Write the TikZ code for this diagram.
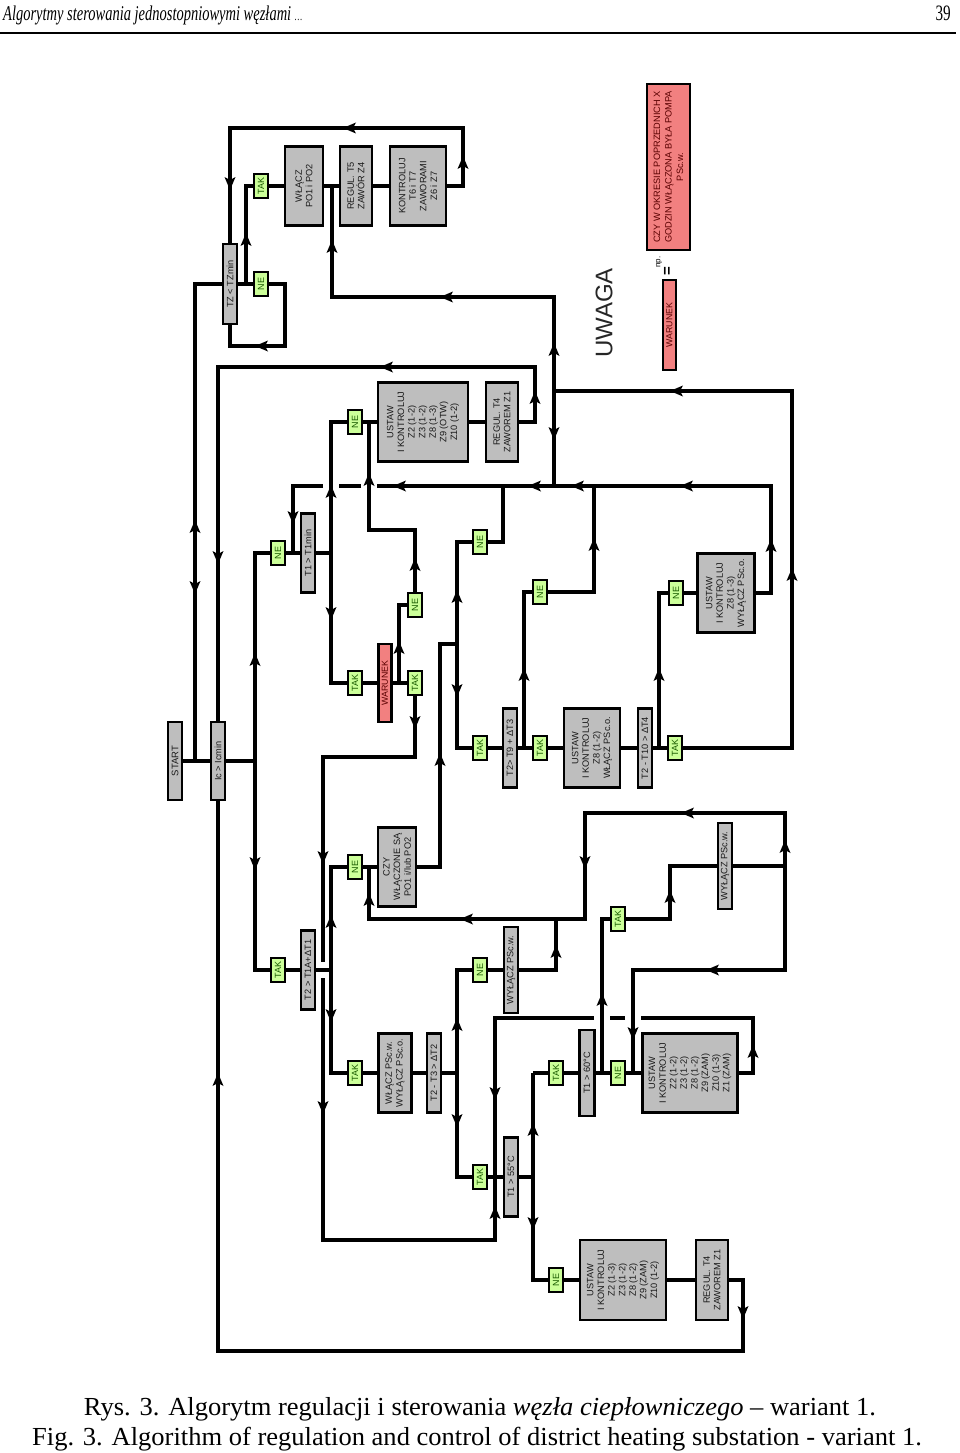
\documentclass[tikz,border=0pt]{standalone}
\usepackage{fontspec}
\setmainfont{Liberation Serif}
\newfontfamily\dsans{Liberation Sans}
\newfontfamily\hdrfont[FakeStretch=0.69]{Liberation Serif}
\newfontfamily\capfont[FakeStretch=1.02]{Liberation Serif}
\usetikzlibrary{backgrounds}
\definecolor{boxgray}{HTML}{BEBEBE}
\definecolor{lgreen}{HTML}{CCFF99}
\definecolor{dgreen}{HTML}{1A5C00}
\definecolor{lred}{HTML}{F28080}
\definecolor{dred}{HTML}{5A0000}
\newcommand\flowarrow[3]{\fill[shift={(#1,#2)},rotate=#3] (7,0) -- (-6,5.5) -- (-3,0) -- (-6,-5.5) -- cycle;}
\tikzset{
  gbox/.style 2 args={draw=black, line width=2.6pt, fill=boxgray, rotate=90, inner sep=0pt,
    minimum width=#2, minimum height=#1, align=center,
    font=\dsans\fontsize{9.2}{10.6}\selectfont, text=black!90},
  lbox/.style={draw=black, line width=2.4pt, fill=lgreen, rotate=90, inner sep=0pt,
    minimum width=24, minimum height=14, font=\dsans\fontsize{9}{9}\selectfont, text=dgreen},
  rbox/.style 2 args={draw=black, line width=2.6pt, fill=lred, rotate=90, inner sep=0pt,
    minimum width=#2, minimum height=#1, align=center,
    font=\dsans\fontsize{8.8}{11}\selectfont, text=dred},
  wire/.style={line width=3.3pt, line join=miter}
}
\begin{document}
\begin{tikzpicture}[x=1pt,y={(0pt,-1pt)}]
\useasboundingbox (0,0) rectangle (960,1453);
% header
\node[anchor=base west, inner sep=0pt, font=\hdrfont\itshape\fontsize{21}{21}\selectfont] (hdr) at (3,21) {Algorytmy sterowania jednostopniowymi węzłami {\fontsize{12}{12}\selectfont …}};
\node[anchor=base east, inner sep=0pt, font=\hdrfont\fontsize{22}{22}\selectfont] (pg) at (951,21) {39};
\draw[line width=1.8pt] (0,33) -- (956,33);
% caption
\node[anchor=base, inner sep=0pt, font=\capfont\fontsize{26}{26}\selectfont] (cap1) at (480,1415) {Rys. 3. Algorytm regulacji i sterowania \textit{węzła ciepłowniczego} – wariant 1.};
\node[anchor=base, inner sep=0pt, font=\capfont\fontsize{26}{26}\selectfont] (cap2) at (477,1445) {Fig. 3. Algorithm of regulation and control of district heating substation - variant 1.};

% gray boxes
\node[gbox={14}{80}] (tz) at (230,284) {TZ < TZmin};
\node[gbox={38}{79}] (wlacz) at (304,186) {WŁĄCZ\\PO1 i PO2};
\node[gbox={32}{79}] (regt5) at (356,186) {REGUL. T5\\ZAWÓR Z4};
\node[gbox={56}{79}] (kontr) at (418,186) {KONTROLUJ\\T6 i T7\\ZAWORAMI\\Z6 i Z7};
\node[gbox={90}{79}] (ustaw1) at (423,422) {USTAW\\I KONTROLUJ\\Z2 (1-2)\\Z3 (1-2)\\Z8 (1-3)\\Z9 (OTW)\\Z10 (1-2)};
\node[gbox={32}{79}] (regt4a) at (502,422) {REGUL. T4\\ZAWOREM Z1};
\node[gbox={14}{79}] (t1min) at (308,553) {T1 > T1min};
\node[gbox={14}{78}, font=\dsans\fontsize{9.5}{10}\selectfont] (start) at (175,761) {START};
\node[gbox={14}{78}] (ic) at (218,761) {Ic > Icmin};
\node[gbox={14}{79}] (t2t1a) at (308,970) {T2 > T1A+ΔT1};
\node[gbox={38}{79}] (czy) at (397,867) {CZY\\WŁĄCZONE SĄ\\PO1 i/lub PO2};
\node[gbox={33}{79}] (wlpsc) at (395,1073) {WŁĄCZ PSc.w.\\WYŁĄCZ PSc.o.};
\node[gbox={14}{79}] (t2t3) at (434,1073) {T2 - T3 > ΔT2};
\node[gbox={14}{79}] (t2t9) at (510,748) {T2> T9 + ΔT3};
\node[gbox={56}{79}] (ustaw2) at (592,748) {USTAW\\I KONTROLUJ\\Z8 (1-2)\\WŁĄCZ PSc.o.};
\node[gbox={14}{79}] (t2t10) at (645,748) {T2 - T10 > ΔT4};
\node[gbox={57}{79}] (ustaw5) at (726,593) {USTAW\\I KONTROLUJ\\Z8 (1-3)\\WYŁĄCZ PSc.o.};
\node[gbox={14}{86}] (wypscw1) at (511,970) {WYŁĄCZ PSc.w.};
\node[gbox={14}{86}] (wypscw2) at (725,866) {WYŁĄCZ PSc.w.};
\node[gbox={15}{86}] (t160) at (587,1073) {T1 > 60°C};
\node[gbox={95}{79}] (ustaw3) at (690,1073) {USTAW\\I KONTROLUJ\\Z2 (1-2)\\Z3 (1-2)\\Z8 (1-2)\\Z9 (ZAM)\\Z10 (1-3)\\Z1 (ZAM)};
\node[gbox={14}{79}] (t155) at (511,1177) {T1 > 55°C};
\node[gbox={86}{80}] (ustaw4) at (623,1280) {USTAW\\I KONTROLUJ\\Z2 (1-3)\\Z3 (1-2)\\Z8 (1-2)\\Z9 (ZAM)\\Z10 (1-2)};
\node[gbox={32}{80}] (regt4b) at (712,1280) {REGUL. T4\\ZAWOREM Z1};

% label boxes
\node[lbox] (tak_tz) at (261,186) {TAK};
\node[lbox] (ne_tz) at (261,284) {NE};
\node[lbox] (ne_u1) at (355,422) {NE};
\node[lbox] (ne_t1) at (278,553) {NE};
\node[lbox] (tak_war) at (355,683) {TAK};
\node[lbox] (tak_war2) at (415,683) {TAK};
\node[lbox] (ne_war) at (415,605) {NE};
\node[lbox] (ne_u5a) at (480,542) {NE};
\node[lbox] (ne_t9) at (540,592) {NE};
\node[lbox] (ne_u5) at (676,593) {NE};
\node[lbox] (tak_t9) at (480,748) {TAK};
\node[lbox] (tak_u2) at (540,748) {TAK};
\node[lbox] (tak_t10) at (675,748) {TAK};
\node[lbox] (tak_t2t1) at (278,970) {TAK};
\node[lbox] (ne_czy) at (355,867) {NE};
\node[lbox] (tak_wl) at (355,1073) {TAK};
\node[lbox] (ne_wy1) at (480,970) {NE};
\node[lbox] (tak_wy2) at (618,919) {TAK};
\node[lbox] (tak_55) at (480,1177) {TAK};
\node[lbox] (tak_60) at (556,1073) {TAK};
\node[lbox] (ne_60) at (618,1073) {NE};
\node[lbox] (ne_u4) at (556,1280) {NE};

% red boxes
\node[rbox={13}{78}] (war) at (385,683) {WARUNEK};
\node[rbox={13}{90}] (legwar) at (669.5,325) {WARUNEK};
\node[rbox={43}{166}, font=\dsans\fontsize{9.2}{11.5}\selectfont] (legbig) at (668.5,167) {CZY W OKRESIE POPRZEDNICH X\\GODZIN WŁĄCZONA BYŁA POMPA\\PSc.w.};
\node[rotate=90, inner sep=0pt, font=\dsans\fontsize{24}{24}\selectfont, text=black!85] (uwaga) at (604,313) {UWAGA};
\node[rotate=90, inner sep=0pt, font=\dsans\fontsize{8}{8}\selectfont] (np) at (659,262) {np.};
\node[rotate=90, inner sep=0pt, font=\dsans\bfseries\fontsize{15}{15}\selectfont] (eq) at (668,271) {=};

\begin{scope}[on background layer]
\draw[wire] (kontr.center) -- (463,186) -- (463,128) -- (230,128) -- (tz.center);
\draw[wire] (start.center) -- (ic.center);
\draw[wire] (195,761) -- (195,284) -- (tz.center);
\draw[wire] (tz.center) -- (ne_tz.center) -- (285,284) -- (285,346) -- (230,346) -- (tz.center);
\draw[wire] (246,284) |- (tak_tz.center) -- (wlacz.center) -- (regt5.center) -- (kontr.center);
\draw[wire] (332,186) -- (332,297) -- (554,297) -- (554,486);
\draw[wire] (tak_t10.center) -- (792,748) -- (792,391) -- (554,391);
\draw[wire] (ic.center) -- (218,367) -- (535,367) -- (535,422) -- (regt4a.center) -- (ustaw1.center) -- (ne_u1.center) -- (331,422) -- (331,683) -- (tak_war.center) -- (war.center) -- (tak_war2.center) -- (415,757) -- (323,757) -- (323,962);
\draw[wire] (323,978) -- (323,1240) -- (495,1240) -- (495,1177);
\draw[wire] (ustaw5.center) -- (771,593) -- (771,486) -- (377,486);
\draw[wire] (361,486) -- (339,486);
\draw[wire] (323,486) -- (293,486) -- (293,553);
\draw[wire] (ustaw5.center) -- (ne_u5.center) -- (659,593) -- (659,748);
\draw[wire] (594,486) -- (594,592) -- (ne_t9.center) -- (524,592) -- (524,748);
\draw[wire] (503,486) -- (503,542) -- (ne_u5a.center) -- (457,542) -- (457,748) -- (tak_t9.center) -- (t2t9.center) -- (tak_u2.center) -- (ustaw2.center) -- (t2t10.center) -- (tak_t10.center);
\draw[wire] (czy.center) -- (440,867) -- (440,644) -- (457,644);
\draw[wire] (ic.center) -- (255,761);
\draw[wire] (t1min.center) -- (ne_t1.center) -- (255,553) -- (255,970) -- (tak_t2t1.center) -- (t2t1a.center) -- (331,970);
\draw[wire] (t1min.center) -- (331,553);
\draw[wire] (399,683) -- (399,605) -- (ne_war.center) -- (415,530) -- (369,530) -- (369,422);
\draw[wire] (czy.center) -- (ne_czy.center) -- (331,867) -- (331,1073) -- (tak_wl.center) -- (wlpsc.center) -- (t2t3.center) -- (457,1073);
\draw[wire] (369,867) -- (369,919) -- (585,919) -- (585,813) -- (785,813) -- (785,970) -- (633,970) -- (633,1073);
\draw[wire] (wypscw2.center) -- (785,866);
\draw[wire] (wypscw2.center) -- (670,866) -- (670,919) -- (tak_wy2.center) -- (602,919) -- (602,1073);
\draw[wire] (wypscw1.center) -- (556,970) -- (556,919);
\draw[wire] (wypscw1.center) -- (ne_wy1.center) -- (457,970) -- (457,1177) -- (tak_55.center) -- (t155.center) -- (533,1177);
\draw[wire] (533,1073) -- (533,1280) -- (ne_u4.center) -- (ustaw4.center) -- (regt4b.center) -- (743,1280) -- (743,1351) -- (218,1351) -- (ic.center);
\draw[wire] (533,1073) -- (tak_60.center) -- (t160.center) -- (ne_60.center) -- (ustaw3.center) -- (753,1073) -- (753,1018) -- (641,1018);
\draw[wire] (625,1018) -- (610,1018);
\draw[wire] (594,1018) -- (495,1018) -- (495,1177);
\end{scope}

% arrowheads
\flowarrow{350}{128}{180}
\flowarrow{463}{163}{90}
\flowarrow{230}{183}{270}
\flowarrow{246}{240}{90}
\flowarrow{262}{346}{180}
\flowarrow{387}{367}{180}
\flowarrow{332}{247}{90}
\flowarrow{447}{297}{180}
\flowarrow{554}{350}{90}
\flowarrow{554}{433}{270}
\flowarrow{677}{391}{180}
\flowarrow{535}{398}{90}
\flowarrow{400}{486}{180}
\flowarrow{535}{486}{180}
\flowarrow{578}{486}{180}
\flowarrow{687}{486}{180}
\flowarrow{331}{492}{90}
\flowarrow{369}{480}{90}
\flowarrow{293}{517}{270}
\flowarrow{331}{613}{270}
\flowarrow{415}{565}{90}
\flowarrow{399}{648}{90}
\flowarrow{415}{722}{270}
\flowarrow{195}{527}{90}
\flowarrow{195}{587}{270}
\flowarrow{218}{557}{270}
\flowarrow{255}{660}{90}
\flowarrow{255}{863}{270}
\flowarrow{323}{857}{270}
\flowarrow{440}{760}{90}
\flowarrow{457}{597}{90}
\flowarrow{457}{690}{270}
\flowarrow{524}{675}{90}
\flowarrow{594}{545}{90}
\flowarrow{659}{675}{90}
\flowarrow{771}{546}{90}
\flowarrow{792}{575}{90}
\flowarrow{369}{900}{90}
\flowarrow{467}{919}{180}
\flowarrow{331}{922}{90}
\flowarrow{331}{1015}{270}
\flowarrow{585}{862}{270}
\flowarrow{688}{813}{180}
\flowarrow{556}{952}{90}
\flowarrow{785}{847}{90}
\flowarrow{670}{897}{90}
\flowarrow{602}{1000}{90}
\flowarrow{713}{970}{180}
\flowarrow{633}{1033}{270}
\flowarrow{457}{1025}{90}
\flowarrow{457}{1120}{270}
\flowarrow{323}{1107}{270}
\flowarrow{495}{1093}{270}
\flowarrow{495}{1213}{90}
\flowarrow{753}{1052}{90}
\flowarrow{533}{1130}{90}
\flowarrow{533}{1223}{270}
\flowarrow{743}{1312}{270}
\flowarrow{218}{1080}{90}
\end{tikzpicture}
\end{document}
